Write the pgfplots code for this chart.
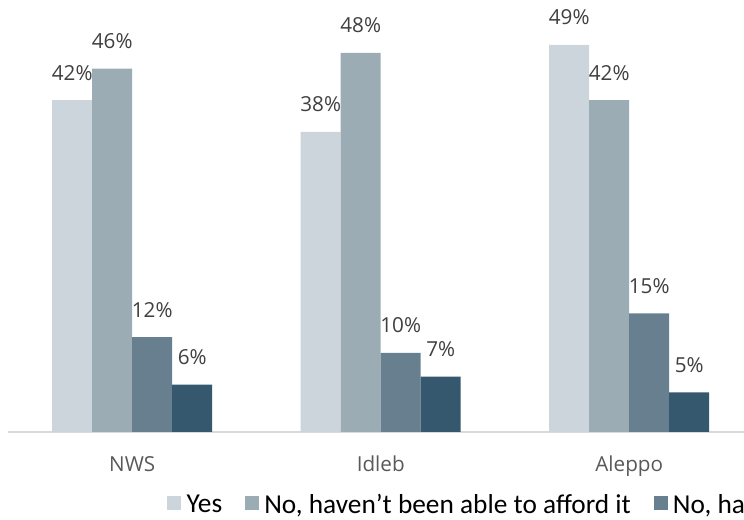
\documentclass[border=0pt]{standalone}
\usepackage{pgfplots}
\pgfplotsset{compat=1.18}
\usepackage{fontspec}
\setmainfont{Open Sans}
\newfontfamily\legfont{Carlito}
\usetikzlibrary{calc}
\definecolor{c1}{HTML}{CDD5DC}
\definecolor{c2}{HTML}{9BACB5}
\definecolor{c3}{HTML}{687F8F}
\definecolor{c4}{HTML}{35586E}
\definecolor{lbl}{HTML}{404040}
\definecolor{cat}{HTML}{595959}
\definecolor{axl}{HTML}{D9D9D9}
\begin{document}
\begin{tikzpicture}
\begin{axis}[name=ax, at={(0,0)}, anchor=south west,
  scale only axis, width=559.1pt, height=325.9pt,
  xmin=-0.5, xmax=2.5, ymin=0, ymax=55,
  ybar=0pt, bar width=30pt,
  /pgf/number format/assume math mode=true,
  axis x line*=bottom, axis y line=none,
  x axis line style={draw=axl, line width=1.1pt, -},
  xtick={0,1,2}, xticklabels={NWS,Idleb,Aleppo},
  major tick length=0pt,
  xticklabel style={font=\fontsize{15.5}{18}\selectfont, text=cat, anchor=base, yshift=-30pt, inner sep=0pt},
  nodes near coords={\pgfmathprintnumber{\pgfplotspointmeta}\%},
  every node near coord/.append style={font=\fontsize{15.5}{18}\selectfont, text=lbl, anchor=base, yshift=15pt, inner sep=0pt},
  legend columns=4,
  legend image code/.code={\fill[#1] (0pt,-3.4pt) rectangle (10.5pt,7.1pt);},
  legend style={at={(axis description cs:0.2133,-0.168)}, anchor=west, draw=none, inner sep=0pt,
    font=\legfont\fontsize{20.5}{24}\selectfont, text=black,
    /tikz/every odd column/.append style={column sep=2pt},
    /tikz/every even column/.append style={column sep=15pt}},
]
\addplot[fill=c1, draw=none] coordinates {(0,42) (1,38) (2,49)};
\addplot[fill=c2, draw=none] coordinates {(0,46) (1,48) (2,42)};
\addplot[fill=c3, draw=none] coordinates {(0,12) (1,10) (2,15)};
\addplot[fill=c4, draw=none] coordinates {(0,6) (1,7) (2,5)};
\legend{Yes, {No, haven’t been able to afford it}, {No, haven’t been able to access it}, {Don’t know}}
\end{axis}
\pgfresetboundingbox
\path[use as bounding box] ($(ax.south west)+(-6pt,-66pt)$) rectangle ($(ax.south west)+(552pt,324pt)$);
\end{tikzpicture}
\end{document}
